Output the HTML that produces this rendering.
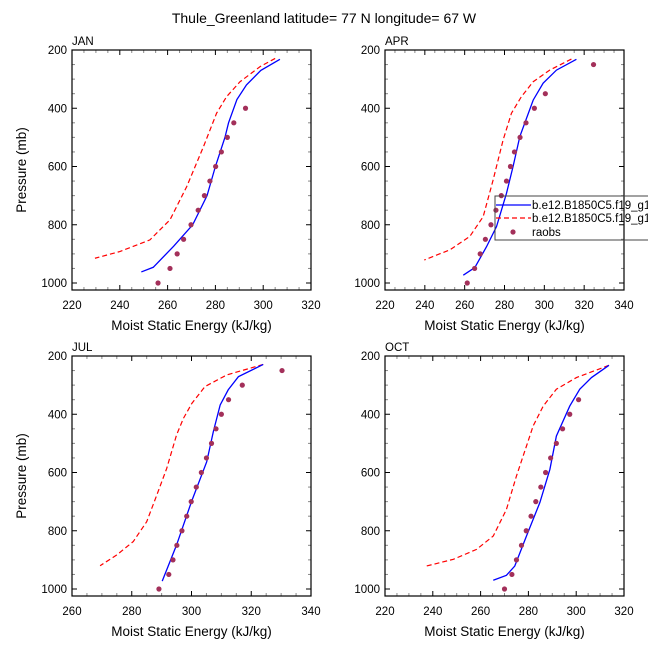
<!DOCTYPE html>
<html><head><meta charset="utf-8"><style>
html,body{margin:0;padding:0;background:#fff;width:648px;height:648px;overflow:hidden}
svg{display:block;font-family:"Liberation Sans",sans-serif}
</style></head><body>
<svg id="chart" width="648" height="648" viewBox="0 0 648 648" xmlns="http://www.w3.org/2000/svg">
<text x="324" y="23" font-size="14" text-anchor="middle">Thule_Greenland  latitude= 77 N longitude= 67 W</text>
</svg>
<script>
const obsP = [1000,950,900,850,800,750,700,650,600,550,500,450,400,350,300,250];
const janBlueP = [232,270,320,370,450,500,600,700,800,874,946,962];
const janBlueX = [307,299,293,289,285.5,284,280,276.5,270.5,262.5,254,249];
const janRedP = [229,257,309,360,417,532,669,783,852,892,915];
const janRedX = [305,298.7,290.3,284.7,280.5,275,268,261,252.6,240,229.6];
const janObs = [256,261,264,266.7,269.8,272.8,275.4,277.7,280.1,282.5,285,287.7,292.6,null,null,null];
const aprBlueP = [232,269,314,372,497,600,692,806,875,947,973];
const aprBlueX = [316.1,306.1,299.4,294.4,287.7,284.3,281,276,271,265.1,259.3];
const aprRedP = [231,269,309,360,417,509,646,772,840,886,921];
const aprRedX = [313.6,302.7,294.4,288.5,283.5,279.3,274.3,269.3,262.6,252.6,239.7];
const aprObs = [261.3,265,267.8,270.4,273.2,275.7,278.4,281,283,285,287.8,290.8,295,300.5,null,324.7];
const julBlueP = [229,271,316,368,460,563,700,849,973];
const julBlueX = [324,315.7,312.3,309.6,307.3,305.1,300,295,290.2];
const julRedP = [229,265,305,363,414,471,586,677,769,837,883,920];
const julRedX = [324,311.8,304.5,300.1,297.3,295,291.7,288.4,285,280.5,275,269.4];
const julObs = [289.1,292.4,293.8,295.1,296.8,298.4,299.9,301.6,303.3,305,306.7,308.2,310,312.4,317,330.3];
const octBlueP = [232,274,314,372,475,589,703,818,921,953,970];
const octBlueX = [313.7,306.4,301.5,297.3,291.7,289,284.8,279.2,274.3,270.8,265.3];
const octRedP = [232,274,314,372,440,509,612,727,818,864,898,921];
const octRedX = [313.7,300.1,291.7,286.2,282,279.2,275,270.8,265.3,258.3,248.6,237.4];
const octObs = [270,273.1,275,277.1,279.1,281.1,283.1,285.2,287.2,289.3,291.7,294.3,297.3,301,null,null];
const yTicks = [200,400,600,800,1000];
const legendLabels = ["b.e12.B1850C5.f19_g16","b.e12.B1850C5.f19_g16","raobs"];

const NS="http://www.w3.org/2000/svg";
const svg=document.getElementById('chart');
function mk(tag,attrs,parent){const e=document.createElementNS(NS,tag);for(const k in attrs)e.setAttribute(k,attrs[k]);(parent||svg).appendChild(e);return e;}

const panels=[
 {name:'jan',label:'JAN',x0:72,y0:50,xmin:220,xmax:320,xt:[220,240,260,280,300,320],bp:janBlueP,bx:janBlueX,rp:janRedP,rx:janRedX,obs:janObs,ylab:true},
 {name:'apr',label:'APR',x0:385,y0:50,xmin:220,xmax:340,xt:[220,240,260,280,300,320,340],bp:aprBlueP,bx:aprBlueX,rp:aprRedP,rx:aprRedX,obs:aprObs,ylab:false},
 {name:'jul',label:'JUL',x0:72,y0:356,xmin:260,xmax:340,xt:[260,280,300,320,340],bp:julBlueP,bx:julBlueX,rp:julRedP,rx:julRedX,obs:julObs,ylab:true},
 {name:'oct',label:'OCT',x0:385,y0:356,xmin:220,xmax:320,xt:[220,240,260,280,300,320],bp:octBlueP,bx:octBlueX,rp:octRedP,rx:octRedX,obs:octObs,ylab:false}
];
const W=239,H=240,PMIN=200,PMAX=1024;
panels.forEach(p=>{
 const g=mk('g',{});
 
 
 const sx=v=>p.x0+(v-p.xmin)/(p.xmax-p.xmin)*W;
 const sy=v=>p.y0+(v-PMIN)/(PMAX-PMIN)*H;
 for(let v=p.xmin;v<=p.xmax;v+=5){
   const maj=(v%20===0);const L=maj?5:3;const c=maj?'#000':'#888';
   mk('line',{x1:sx(v),x2:sx(v),y1:p.y0+H,y2:p.y0+H-L,stroke:c,'stroke-width':1},g);
   mk('line',{x1:sx(v),x2:sx(v),y1:p.y0,y2:p.y0+L,stroke:c,'stroke-width':1},g);
 }
 for(let v=200;v<=1000;v+=50){
   const maj=(v%200===0);const L=maj?5:3;const c=maj?'#000':'#888';
   mk('line',{x1:p.x0,x2:p.x0+L,y1:sy(v),y2:sy(v),stroke:c,'stroke-width':1},g);
   mk('line',{x1:p.x0+W,x2:p.x0+W-L,y1:sy(v),y2:sy(v),stroke:c,'stroke-width':1},g);
 }
 const fr=mk('rect',{x:p.x0,y:p.y0,width:W,height:H,fill:'none',stroke:'#000','stroke-width':1.2},g);
 
 
 p.xt.forEach(v=>{
   const t=mk('text',{x:sx(v),y:p.y0+H+19,'font-size':11.5,'text-anchor':'middle'},g);t.textContent=v;
   
   
 });
 yTicks.forEach(v=>{
   const t=mk('text',{x:p.x0-5,y:sy(v)+4,'font-size':11.5,'text-anchor':'end'},g);t.textContent=v;
   
   
 });
 const lab=mk('text',{x:p.x0,y:p.y0-5,'font-size':11.5},g);lab.textContent=p.label;
 
 
 const xt=mk('text',{x:p.x0+W/2,y:p.y0+H+40,'font-size':13.5,'text-anchor':'middle'},g);xt.textContent='Moist Static Energy (kJ/kg)';
 
 
 if(p.ylab){
   const cy=p.y0+H/2;
   const yt=mk('text',{x:26,y:cy,'font-size':13.5,'text-anchor':'middle',transform:'rotate(-90 26 '+cy+')'},g);yt.textContent='Pressure (mb)';
   
   
 }
 const red=mk('polyline',{points:p.rp.map((v,i)=>sx(p.rx[i])+','+sy(v)).join(' '),fill:'none',stroke:'#f00','stroke-width':1.2,'stroke-dasharray':'5,3'},g);
 
 
 const blue=mk('polyline',{points:p.bp.map((v,i)=>sx(p.bx[i])+','+sy(v)).join(' '),fill:'none',stroke:'#00f','stroke-width':1.3},g);
 
 
 p.obs.forEach((v,i)=>{ if(v===null)return;
   const c=mk('circle',{cx:sx(v),cy:sy(obsP[i]),r:2.6,fill:'#a3305a'},g);
   
   
 });
});
const lg=mk('g',{});


mk('rect',{x:495,y:196,width:160,height:44,fill:'none',stroke:'#444','stroke-width':1},lg);
const rows=[205,218,232];
mk('line',{x1:496,x2:531,y1:rows[0],y2:rows[0],stroke:'#00f','stroke-width':1.3},lg);
mk('line',{x1:496,x2:531,y1:rows[1],y2:rows[1],stroke:'#f00','stroke-width':1.2,'stroke-dasharray':'5,3'},lg);
mk('circle',{cx:513,cy:rows[2],r:2.6,fill:'#a3305a'},lg);
legendLabels.forEach((s,i)=>{
 const t=mk('text',{x:532,y:rows[i]+4,'font-size':11.5},lg);t.textContent=s;
 
 
});
</script>
</body></html>
